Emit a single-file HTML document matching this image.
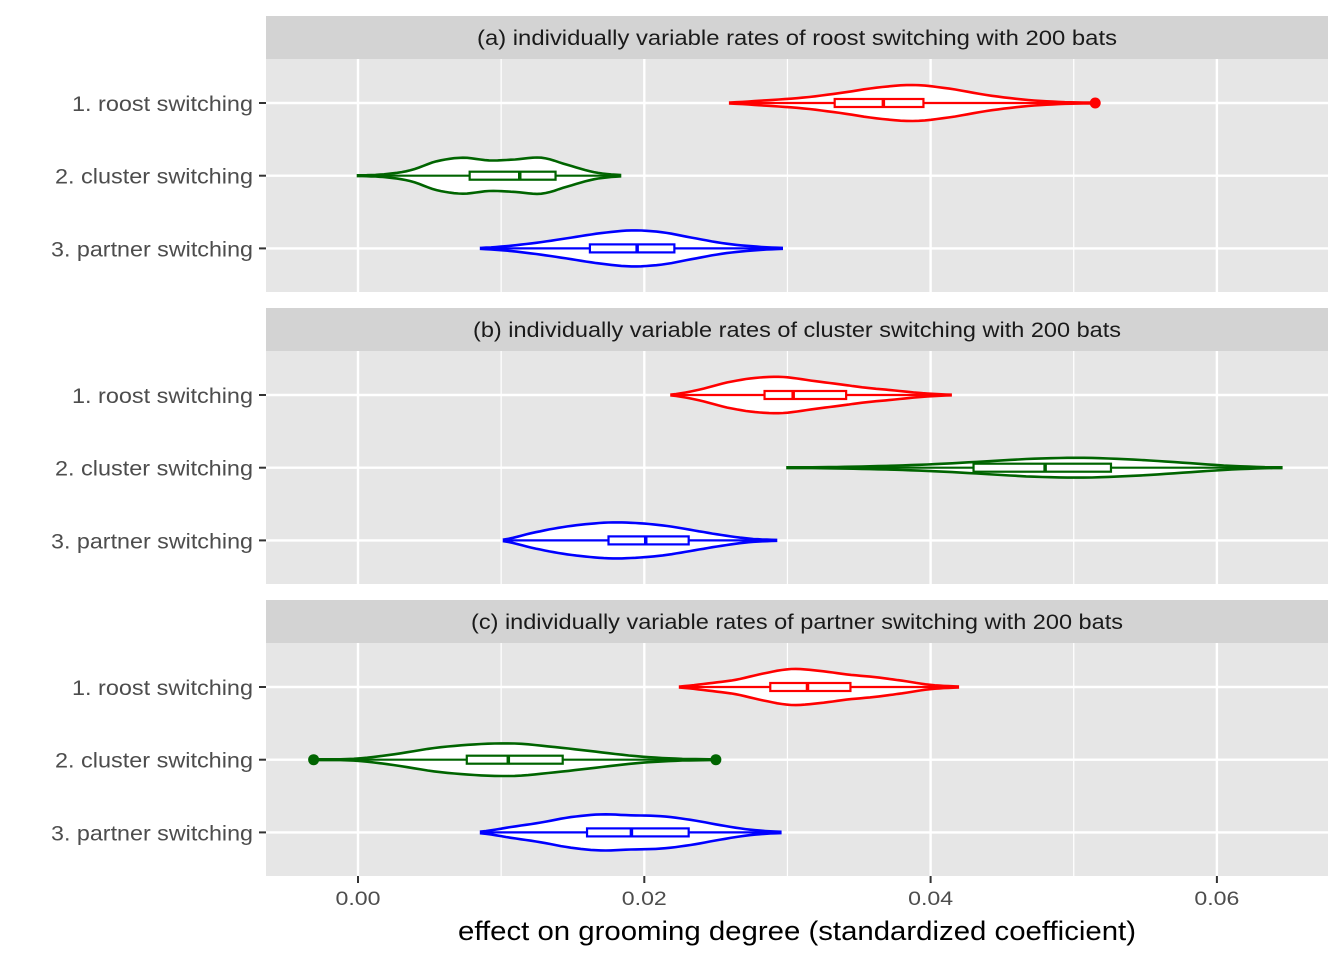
<!DOCTYPE html>
<html><head><meta charset="utf-8"><style>
body{margin:0;background:#fff;}
svg{display:block;font-family:"Liberation Sans",Arial,sans-serif;}
</style></head><body>
<svg id="chart" width="1344" height="960"></svg>
<script>
const panelTitles=["(a) individually variable rates of roost switching with 200 bats","(b) individually variable rates of cluster switching with 200 bats","(c) individually variable rates of partner switching with 200 bats"];
const categories=["1. roost switching","2. cluster switching","3. partner switching"];
const xTicks=[0,0.02,0.04,0.06];
const xTickLabels=["0.00","0.02","0.04","0.06"];
const vMin=[[0.0260,0.0000,0.0086],[0.0219,0.0300,0.0102],[0.0225,-0.0031,0.0086]];
const vMax=[[0.0515,0.0183,0.0296],[0.0414,0.0645,0.0292],[0.0419,0.0250,0.0295]];
const q1=[[0.0333,0.0078,0.0162],[0.0284,0.0430,0.0175],[0.0288,0.0076,0.0160]];
const med=[[0.0367,0.0113,0.0195],[0.0304,0.0480,0.0201],[0.0314,0.0105,0.0191]];
const q3=[[0.0395,0.0138,0.0221],[0.0341,0.0526,0.0231],[0.0344,0.0143,0.0231]];
const outliers=[[[0.0515],[],[]],[[],[],[]],[[],[-0.0031,0.0250],[]]];
const dens=[
 [[0.03,0.15,0.3,0.55,0.85,1,0.8,0.45,0.2,0.06,0.02],[0.02,0.08,0.3,0.8,1,0.85,0.9,1,0.6,0.2,0.04],[0.03,0.15,0.35,0.6,0.85,1,0.9,0.6,0.3,0.12,0.03]],
 [[0.03,0.3,0.7,0.95,1,0.8,0.6,0.4,0.25,0.1,0.02],[0.01,0.04,0.1,0.2,0.35,0.5,0.55,0.45,0.28,0.1,0.01],[0.05,0.4,0.7,0.9,1,0.95,0.8,0.55,0.3,0.1,0.03]],
 [[0.03,0.2,0.4,0.75,1,0.9,0.7,0.55,0.35,0.12,0.03],[0.02,0.05,0.3,0.65,0.85,0.9,0.7,0.45,0.2,0.06,0.02],[0.05,0.3,0.55,0.85,1,0.95,0.9,0.7,0.4,0.15,0.04]]
];
const colors=["#ff0000","#006400","#0000ff"];
const NS="http://www.w3.org/2000/svg";
const svg=document.getElementById('chart');
const X0=266,X1=1328;
function xs(v){return 358+v*14315;}
const panelTop=[16,308,600];
function el(t,a,p){const e=document.createElementNS(NS,t);for(const k in a)e.setAttribute(k,a[k]);(p||svg).appendChild(e);return e;}
const labelLen=[181,198,202];
panelTitles.forEach((title,p)=>{
  const g=el('g',{});
  
  
  const T=panelTop[p];
  const strip=el('rect',{x:X0,y:T,width:X1-X0,height:43,fill:'#d3d3d3'},g);
  
  
  const st=el('text',{x:(X0+X1)/2,y:T+29,'text-anchor':'middle','font-size':21,fill:'#1a1a1a',textLength:[640,648,652][p],lengthAdjust:'spacingAndGlyphs'},g);st.textContent=title;
  
  
  const PT=T+43,PH=233;
  const bg=el('rect',{x:X0,y:PT,width:X1-X0,height:PH,fill:'#e6e6e6'},g);
  
  
  [0.01,0.03,0.05].forEach(v=>el('line',{x1:xs(v),x2:xs(v),y1:PT,y2:PT+PH,stroke:'#fff','stroke-width':1.2},g));
  xTicks.forEach(v=>el('line',{x1:xs(v),x2:xs(v),y1:PT,y2:PT+PH,stroke:'#fff','stroke-width':2.4},g));
  const rowY=i=>PT+44+i*72.7;
  categories.forEach((c,i)=>{
    const y=rowY(i);
    el('line',{x1:X0,x2:X1,y1:y,y2:y,stroke:'#fff','stroke-width':2.4},g);
    el('line',{x1:X0-7,x2:X0,y1:y,y2:y,stroke:'#333','stroke-width':2},g);
    const lt=el('text',{x:X0-13,y:y+8,'text-anchor':'end','font-size':21,fill:'#4d4d4d',textLength:labelLen[i],lengthAdjust:'spacingAndGlyphs'},g);lt.textContent=c;
    
    
  });
  categories.forEach((c,i)=>{
    const y=rowY(i),col=colors[i],d=dens[p][i],mn=vMin[p][i],mx=vMax[p][i],n=d.length;
    const W=18;
    const pts=[];const steps=60;
    for(let s=0;s<=steps;s++){const t=s/steps*(n-1);const k=Math.min(Math.floor(t),n-2);const f=t-k;
      const a=d[Math.max(k-1,0)],b=d[k],cc=d[k+1],e=d[Math.min(k+2,n-1)];
      let h=0.5*((2*b)+(-a+cc)*f+(2*a-5*b+4*cc-e)*f*f+(-a+3*b-3*cc+e)*f*f*f);
      h=Math.max(h,0.02);
      pts.push([xs(mn+(mx-mn)*s/steps),h*W]);}
    let dstr='M'+pts.map(q=>q[0].toFixed(1)+','+(y-q[1]).toFixed(1)).join('L');
    dstr+='L'+pts.slice().reverse().map(q=>q[0].toFixed(1)+','+(y+q[1]).toFixed(1)).join('L')+'Z';
    const v=el('path',{d:dstr,fill:'#fff',stroke:col,'stroke-width':2.6},g);
    
    
    const wl=el('line',{x1:xs(mn),x2:xs(mx),y1:y,y2:y,stroke:col,'stroke-width':2.2},g);
    
    
    const b=el('rect',{x:xs(q1[p][i]),y:y-4,width:xs(q3[p][i])-xs(q1[p][i]),height:8,fill:'#fff',stroke:col,'stroke-width':2.2},g);
    
    
    el('line',{x1:xs(med[p][i]),x2:xs(med[p][i]),y1:y-4,y2:y+4,stroke:col,'stroke-width':3.5},g);
    outliers[p][i].forEach(o=>{const ci=el('circle',{cx:xs(o),cy:y,r:5.5,fill:col},g);
      
      });
  });
});
xTicks.forEach((v,i)=>{
  el('line',{x1:xs(v),x2:xs(v),y1:876,y2:883,stroke:'#333','stroke-width':2});
  const t=el('text',{x:xs(v),y:905,'text-anchor':'middle','font-size':19,fill:'#4d4d4d',textLength:45,lengthAdjust:'spacingAndGlyphs'});t.textContent=xTickLabels[i];
  
  
});
const xt=el('text',{x:797,y:940,'text-anchor':'middle','font-size':27,fill:'#000',textLength:678,lengthAdjust:'spacingAndGlyphs'});xt.textContent="effect on grooming degree (standardized coefficient)";


</script>
</body></html>
